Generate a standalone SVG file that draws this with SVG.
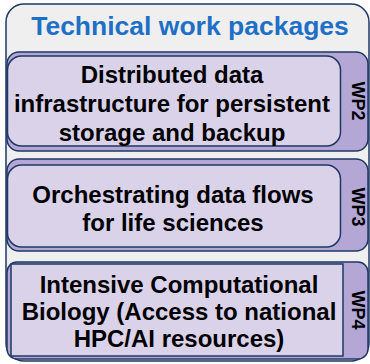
<svg xmlns="http://www.w3.org/2000/svg" width="370" height="364" viewBox="0 0 370 364">
<style>
.frame{fill:#efefef;stroke:#1f3864;stroke-width:1.5}
.outer{fill:#b4a7d6;stroke:#1f3864;stroke-width:1.5}
.inner{fill:#d9d2e9;stroke:#1f3864;stroke-width:1.5}
.title{font-family:"Liberation Sans",Arial,sans-serif;font-weight:bold;font-size:26.5px;fill:#1f6fc6;text-anchor:middle}
.body{font-family:"Liberation Sans",Arial,sans-serif;font-weight:bold;font-size:24px;fill:#000;text-anchor:middle}
.wp{font-family:"Liberation Sans",Arial,sans-serif;font-weight:bold;font-size:18px;fill:#000;text-anchor:middle;dominant-baseline:central}
</style>
<rect width="370" height="364" fill="#ffffff"/>
<g id="container">
<rect class="frame" x="6" y="4" width="363" height="357" rx="18"/>
<text class="title" x="190" y="35">Technical work packages</text>
</g>
<g id="wp2">
<rect class="outer" x="7" y="52" width="361" height="99" rx="12"/>
<rect class="inner" x="7.5" y="56" width="333" height="90" rx="14"/>
<text class="body" x="172" y="83">Distributed data</text>
<text class="body" x="172" y="112">infrastructure for persistent</text>
<text class="body" x="172" y="141">storage and backup</text>
<text class="wp" transform="translate(358,101) rotate(90)">WP2</text>
</g>
<g id="wp3">
<rect class="outer" x="7" y="159" width="361" height="92" rx="12"/>
<rect class="inner" x="7.5" y="165" width="333" height="82" rx="14"/>
<text class="body" x="173" y="203">Orchestrating data flows</text>
<text class="body" x="173" y="231">for life sciences</text>
<text class="wp" transform="translate(358,207) rotate(90)">WP3</text>
</g>
<g id="wp4">
<rect class="outer" x="7" y="262" width="361" height="97" rx="10"/>
<rect class="inner" x="11" y="264" width="332" height="92"/>
<text class="body" x="179" y="293">Intensive Computational</text>
<text class="body" x="179" y="320">Biology (Access to national</text>
<text class="body" x="179" y="347">HPC/AI resources)</text>
<text class="wp" transform="translate(358,310) rotate(90)">WP4</text>
</g>
<g id="connectors"></g>
</svg>
